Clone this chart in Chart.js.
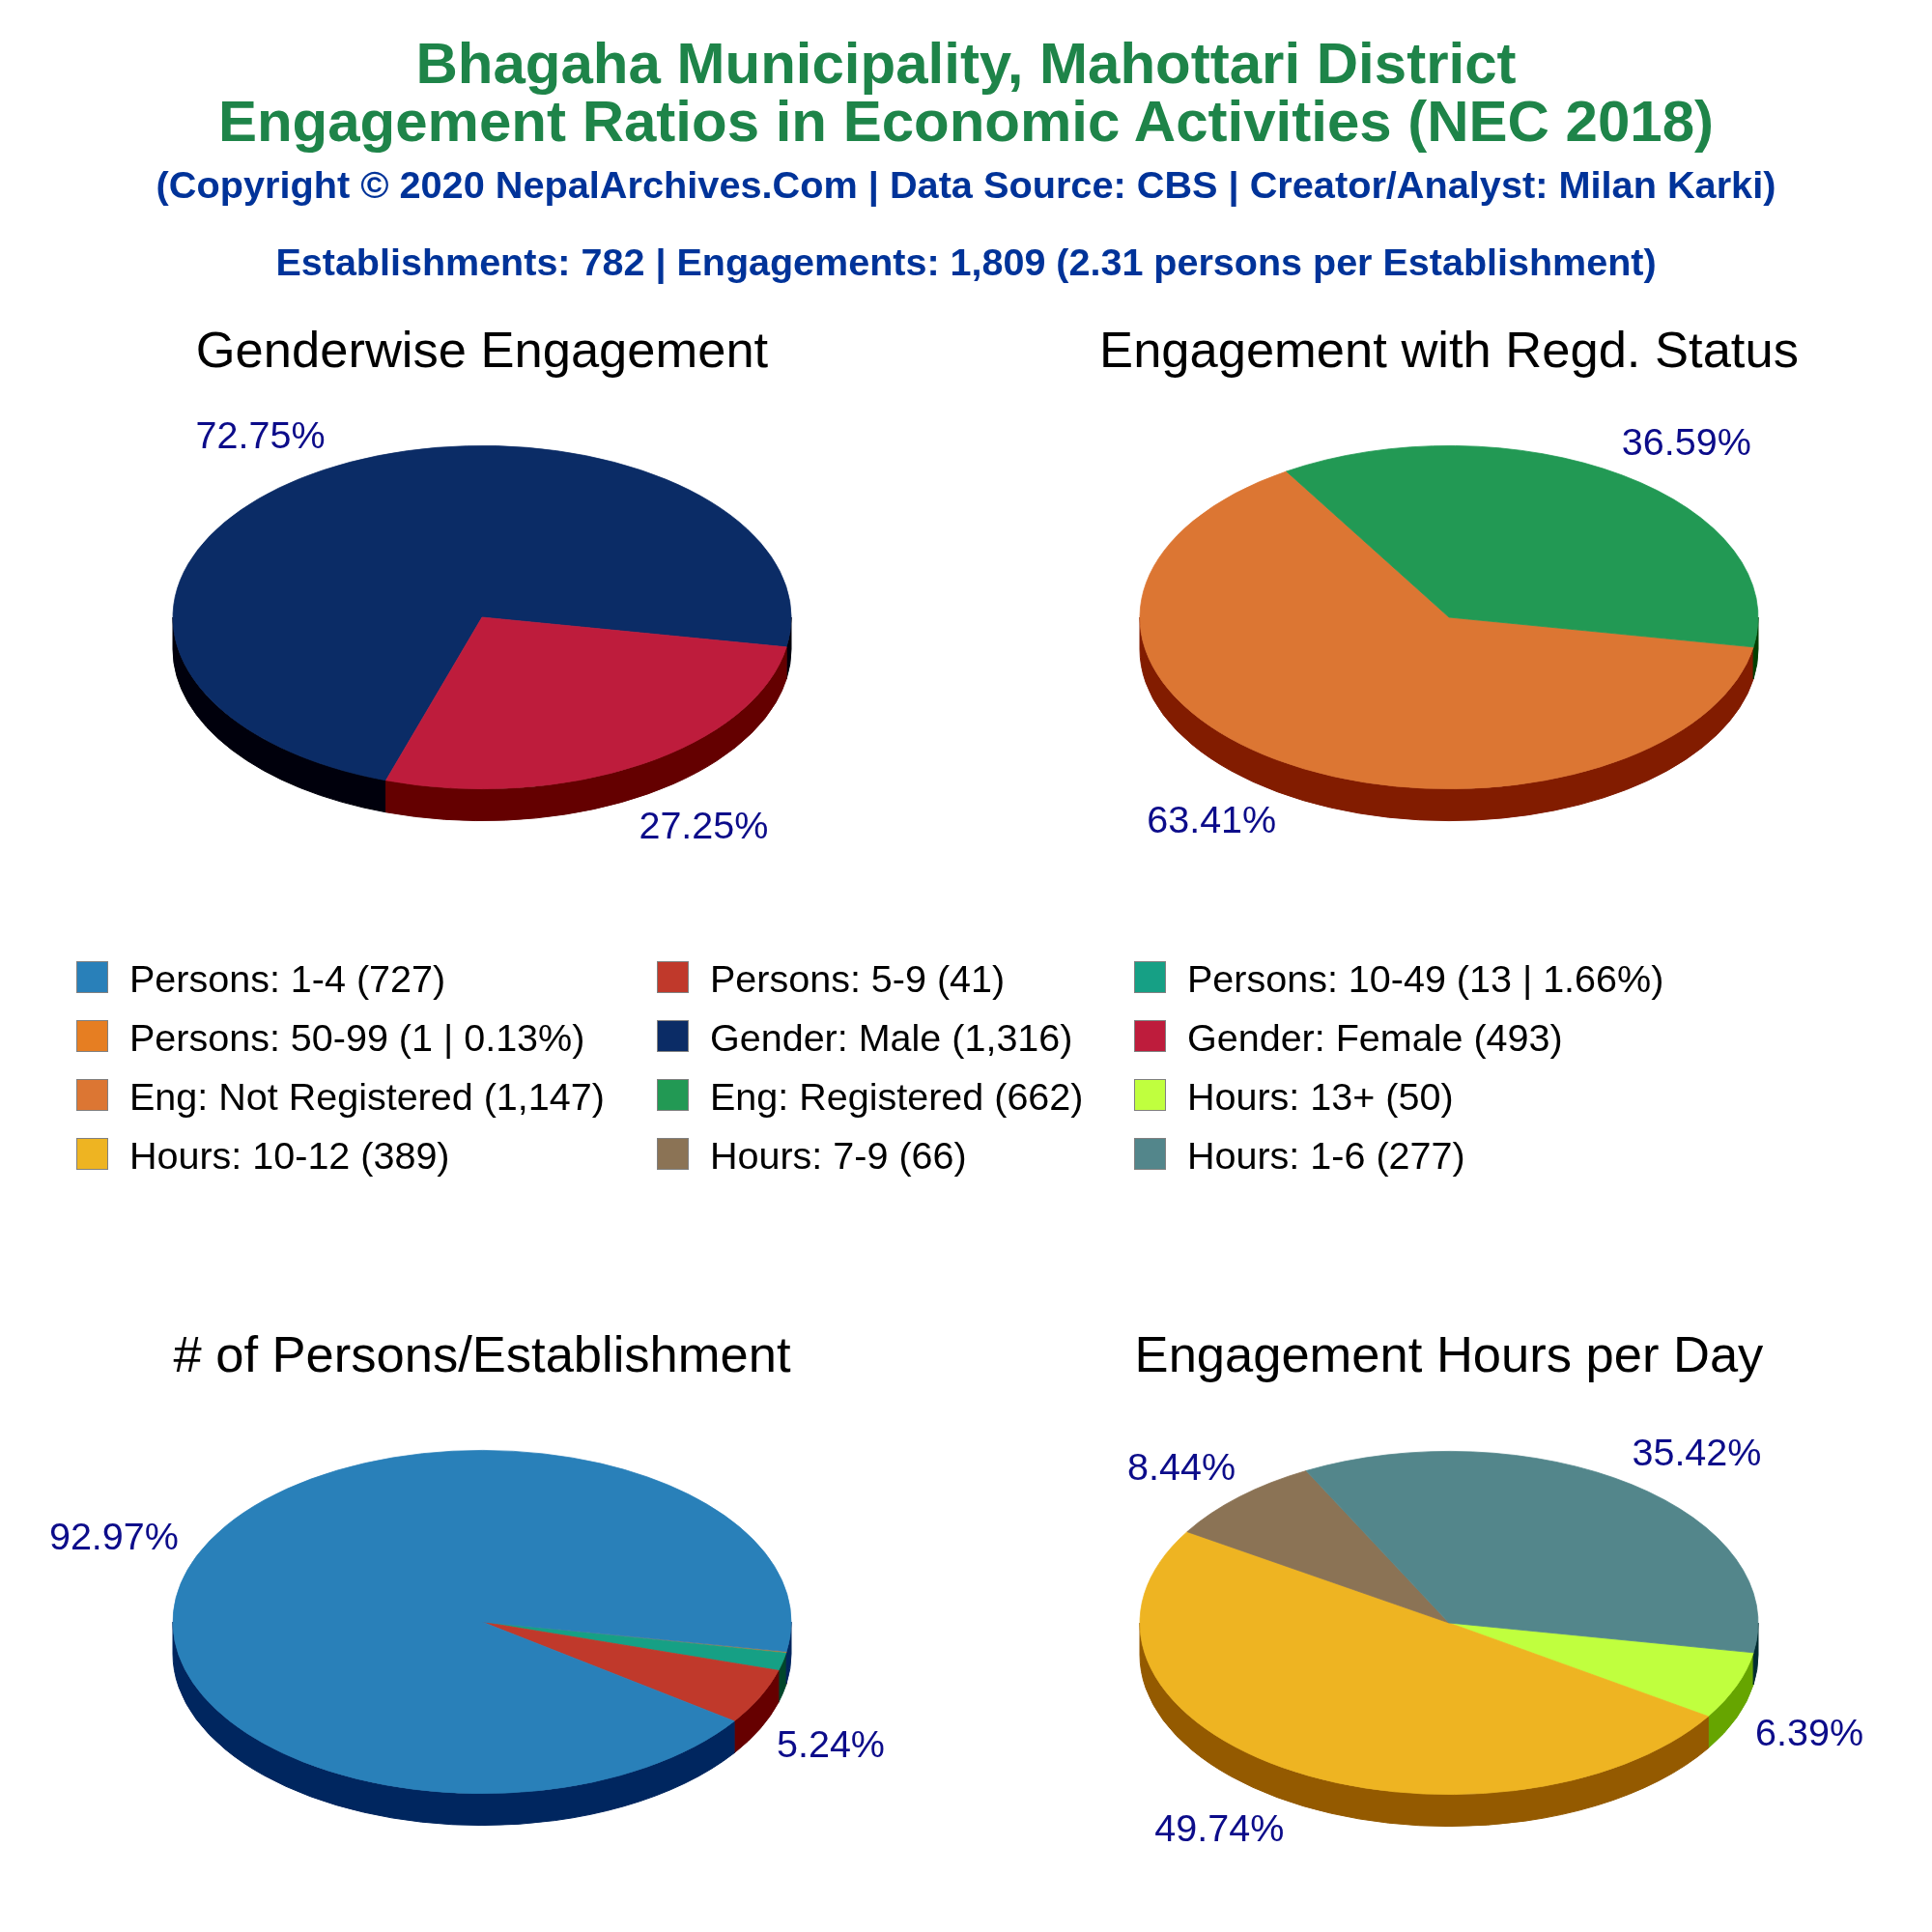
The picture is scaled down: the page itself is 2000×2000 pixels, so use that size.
<!DOCTYPE html>
<html>
<head>
<meta charset="utf-8">
<script src="https://cdn.jsdelivr.net/npm/chart.js@4.4.1/dist/chart.umd.min.js"></script>
<style>
  html, body { margin: 0; padding: 0; background: #ffffff; }
  #page { position: relative; width: 2000px; height: 2000px; overflow: hidden;
          font-family: "Liberation Sans", Arial, Helvetica, sans-serif; }
  canvas.pie { position: absolute; z-index: 1; }
  .t { position: absolute; white-space: nowrap; line-height: 1; z-index: 2; }
  .center { text-align: center; }
  .sw { position: absolute; box-sizing: border-box; width: 33px; height: 33px;
        border: 1px solid #808080; z-index: 2; }
</style>
</head>
<body>
<div id="page">
  <canvas class="pie" id="pieGender" width="1000" height="1000" style="left:0px;top:0px;"></canvas>
  <canvas class="pie" id="pieRegd" width="1000" height="1000" style="left:1000px;top:0px;"></canvas>
  <canvas class="pie" id="piePersons" width="1000" height="1000" style="left:0px;top:1000px;"></canvas>
  <canvas class="pie" id="pieHours" width="1000" height="1000" style="left:1000px;top:1000px;"></canvas>
</div>
<script>
// ---------------- DATA ----------------
const headerLines = [
  'Bhagaha Municipality, Mahottari District',
  'Engagement Ratios in Economic Activities (NEC 2018)'
];
const copyrightLine = '(Copyright \u00A9 2020 NepalArchives.Com | Data Source: CBS | Creator/Analyst: Milan Karki)';
const summaryLine = 'Establishments: 782 | Engagements: 1,809 (2.31 persons per Establishment)';

const chartTitles = ['Genderwise Engagement', 'Engagement with Regd. Status',
                     '# of Persons/Establishment', 'Engagement Hours per Day'];

const personsLabels = ['Persons: 1-4', 'Persons: 5-9', 'Persons: 10-49', 'Persons: 50-99'];
const personsValues = [727, 41, 13, 1];
const personsColors = ['#2980b9', '#c0392b', '#16a085', '#e67e22'];

const genderLabels = ['Gender: Male', 'Gender: Female'];
const genderValues = [1316, 493];
const genderColors = ['#0b2c66', '#be1c3c'];

const regdLabels = ['Eng: Not Registered', 'Eng: Registered'];
const regdValues = [1147, 662];
const regdColors = ['#dc7633', '#229954'];

const hoursLabels = ['Hours: 13+', 'Hours: 10-12', 'Hours: 7-9', 'Hours: 1-6'];
const hoursValues = [50, 389, 66, 277];
const hoursColors = ['#c0ff3e', '#eeb422', '#8b7355', '#53868b'];

// ---------------- HELPERS ----------------
const FONT = '"Liberation Sans", Arial, Helvetica, sans-serif';
const page = document.getElementById('page');

function addText(txt, opts) {
  const d = document.createElement('div');
  d.className = 't' + (opts.center ? ' center' : '');
  d.textContent = txt;
  d.style.fontSize = opts.size + 'px';
  if (opts.bold) d.style.fontWeight = 'bold';
  d.style.color = opts.color || '#000';
  d.style.top = (opts.baseline - 0.8465 * opts.size) + 'px';
  if (opts.center) {
    d.style.left = (opts.cx - 1000) + 'px';
    d.style.width = '2000px';
  } else {
    d.style.left = opts.left + 'px';
  }
  page.appendChild(d);
  return d;
}

function sideColor(hex) {
  const n = parseInt(hex.slice(1), 16);
  const r = Math.max(0, ((n >> 16) & 255) - 90);
  const g = Math.max(0, ((n >> 8) & 255) - 90);
  const b = Math.max(0, (n & 255) - 90);
  return 'rgb(' + r + ',' + g + ',' + b + ')';
}

function fmt(n) { return n.toLocaleString('en-US'); }
function sum(a) { return a.reduce((p, c) => p + c, 0); }

// ---------------- 3D PIE PLUGIN ----------------
const pie3d = {
  id: 'pie3d',
  beforeDatasetsDraw(chart, args, opts) {
    const ctx = chart.ctx;
    const arcs = chart.getDatasetMeta(0).data;
    if (!arcs.length) return;
    const cx = arcs[0].x, cy = arcs[0].y, r = arcs[0].outerRadius;
    const ry = r * opts.ratio, depth = opts.depth;
    const colors = chart.data.datasets[0].backgroundColor;
    arcs.forEach((a, i) => {
      const col = sideColor(colors[i]);
      for (let n = -2; n <= 2; n++) {
        const lo = Math.max(a.startAngle, n * 2 * Math.PI);
        const hi = Math.min(a.endAngle, n * 2 * Math.PI + Math.PI);
        if (hi > lo) {
          ctx.beginPath();
          ctx.ellipse(cx, cy, r, ry, 0, lo, hi, false);
          ctx.ellipse(cx, cy + depth, r, ry, 0, hi, lo, true);
          ctx.closePath();
          ctx.fillStyle = col;
          ctx.strokeStyle = col;
          ctx.lineWidth = 1;
          ctx.fill();
          ctx.stroke();
        }
      }
    });
    ctx.save();
    ctx.translate(cx, cy);
    ctx.scale(1, opts.ratio);
    ctx.translate(-cx, -cy);
  },
  afterDatasetsDraw(chart, args, opts) {
    const ctx = chart.ctx;
    ctx.restore();
    const meta = chart.getDatasetMeta(0);
    const ds = chart.data.datasets[0];
    const total = sum(ds.data);
    ctx.save();
    ctx.font = opts.labelSize + 'px ' + FONT;
    ctx.fillStyle = opts.labelColor;
    ctx.textAlign = 'center';
    ctx.textBaseline = 'middle';
    meta.data.forEach((a, i) => {
      const frac = ds.data[i] / total;
      if (frac < 0.02) return;
      const txt = (frac * 100).toFixed(2) + '%';
      const w = ctx.measureText(txt).width;
      const m = (a.startAngle + a.endAngle) / 2;
      const c = Math.cos(m), s = Math.sin(m);
      const r = a.outerRadius, ry = r * opts.ratio;
      const dx = c * (r + 60 * Math.abs(c) - 35) + Math.sign(c) * w / 2;
      const dy = s * (ry + 26 * Math.abs(s)) + Math.sign(s) * 14 + (s > 0 ? opts.depth : 0);
      ctx.fillText(txt, a.x + dx, a.y + dy);
    });
    ctx.restore();
  }
};

function makePie(id, labels, values, colors, center, rotation) {
  const R = 320;
  return new Chart(document.getElementById(id), {
    type: 'pie',
    data: {
      labels: labels,
      datasets: [{
        data: values,
        backgroundColor: colors,
        borderColor: colors,
        borderWidth: 1
      }]
    },
    options: {
      responsive: false,
      animation: false,
      events: [],
      rotation: rotation,
      radius: R,
      layout: { padding: {
        left: center[0] - R, right: 1000 - center[0] - R,
        top: center[1] - R, bottom: Math.max(0, 1000 - center[1] - R)
      } },
      plugins: {
        legend: { display: false },
        tooltip: { enabled: false },
        title: { display: false },
        pie3d: { ratio: 0.555, depth: 33, labelSize: 39.5, labelColor: '#0c0c8a' }
      }
    },
    plugins: [pie3d]
  });
}

// ---------------- HEADER ----------------
addText(headerLines[0], { center: true, cx: 1000, baseline: 87, size: 60, bold: true, color: '#1e8449' });
addText(headerLines[1], { center: true, cx: 1000, baseline: 147, size: 60, bold: true, color: '#1e8449' });
addText(copyrightLine, { center: true, cx: 1000, baseline: 206, size: 39.7, bold: true, color: '#003399' });
addText(summaryLine, { center: true, cx: 1000, baseline: 285, size: 39.5, bold: true, color: '#003399' });

// chart titles
addText(chartTitles[0], { center: true, cx: 499, baseline: 380, size: 52.5 });
addText(chartTitles[1], { center: true, cx: 1500, baseline: 380, size: 52.5 });
addText(chartTitles[2], { center: true, cx: 499, baseline: 1420, size: 52.5 });
addText(chartTitles[3], { center: true, cx: 1500, baseline: 1420, size: 52.5 });

// ---------------- LEGEND ----------------
const legendItems = [];
function pushGroup(labels, values, colors) {
  const tot = sum(values);
  labels.forEach((l, i) => {
    const frac = values[i] / tot;
    let t = l + ' (' + fmt(values[i]);
    if (frac < 0.02) t += ' | ' + (frac * 100).toFixed(2) + '%';
    t += ')';
    legendItems.push({ text: t, color: colors[i] });
  });
}
pushGroup(personsLabels, personsValues, personsColors);
pushGroup(genderLabels, genderValues, genderColors);
pushGroup(regdLabels, regdValues, regdColors);
pushGroup(hoursLabels, hoursValues, hoursColors);

const legendCols = [79, 680, 1174];
const legendTop = 995, legendStep = 61;
legendItems.forEach((it, i) => {
  const col = i % 3, row = Math.floor(i / 3);
  const x = legendCols[col], y = legendTop + row * legendStep;
  const sw = document.createElement('div');
  sw.className = 'sw';
  sw.style.left = x + 'px';
  sw.style.top = y + 'px';
  sw.style.background = it.color;
  page.appendChild(sw);
  addText(it.text, { left: x + 55, baseline: y + 32, size: 39.5, color: '#000' });
});

// ---------------- PIES ----------------
const START = 100;
makePie('pieGender', genderLabels, genderValues, genderColors, [499, 639],
        START + 360 * genderValues[1] / sum(genderValues));
makePie('pieRegd', regdLabels, regdValues, regdColors, [500, 639], START);
makePie('piePersons', personsLabels.slice().reverse(), personsValues.slice().reverse(),
        personsColors.slice().reverse(), [499, 679], START);
makePie('pieHours', hoursLabels, hoursValues, hoursColors, [500, 680], START);
</script>
</body>
</html>
